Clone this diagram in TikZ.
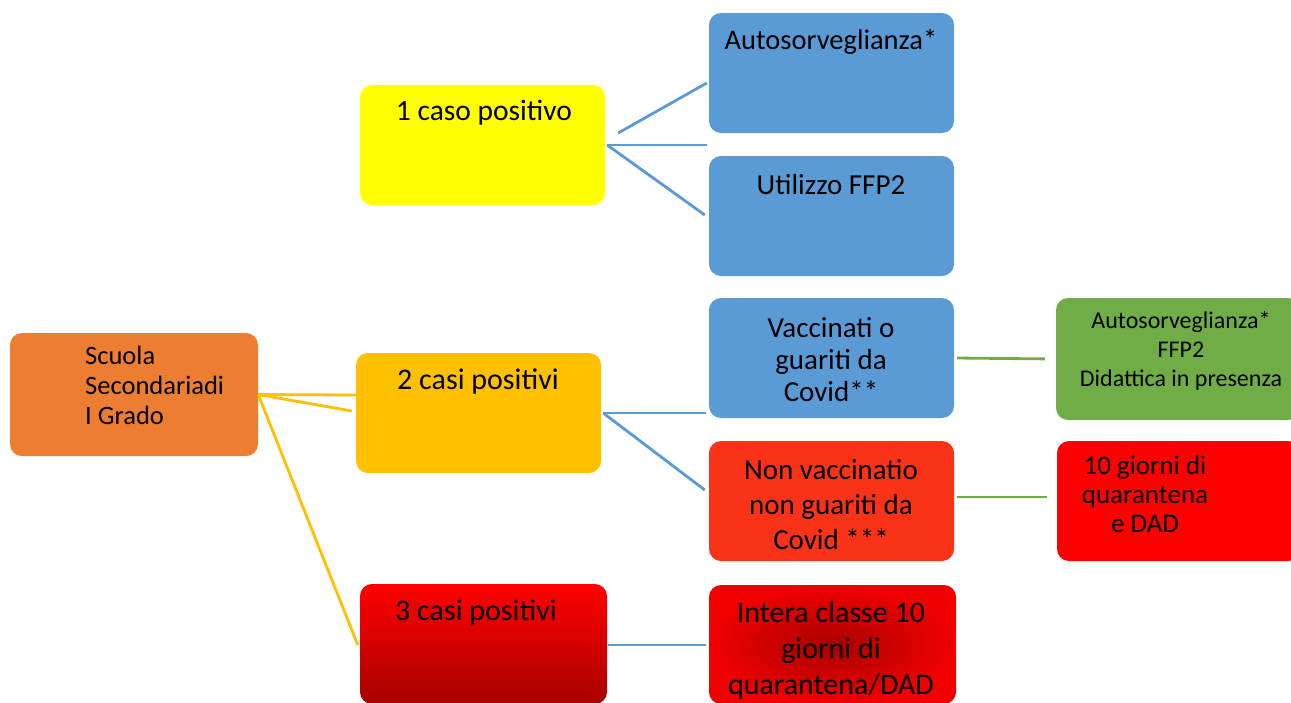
\documentclass[tikz,border=0pt]{standalone}
\usepackage{fontspec}
\setmainfont{Carlito}
\usetikzlibrary{positioning}

\definecolor{arancio}{HTML}{ED7D31}
\definecolor{giallo}{HTML}{FFFF00}
\definecolor{oro}{HTML}{FFC000}
\definecolor{azzurro}{HTML}{5B9BD5}
\definecolor{verdino}{HTML}{70AD47}
\definecolor{rossovivo}{HTML}{FF0000}
\definecolor{rossobordo}{HTML}{F20000}
\definecolor{rossoscuro}{HTML}{A80000}
\definecolor{rossoarancio}{HTML}{F93218}

\begin{document}
\begin{tikzpicture}[x=1pt, y=-1pt,
		box/.style={rectangle, rounded corners=12pt, minimum width=245pt, minimum height=120pt, inner sep=0pt},
		txt/.style={align=center, inner sep=0pt, font=\fontsize{29.5}{32}\selectfont},
		ramo/.style={line width=2.8pt}]
			\useasboundingbox (0,0) rectangle (1291,702);

			% Root
			\node[box, fill=arancio, minimum width=248pt, minimum height=123pt] (radice) at (134,394.5) {};
			\node[txt, align=left, anchor=west, font=\fontsize{26.5}{30}\selectfont] (radice-t) at (85,385) {Scuola\\Secondariadi\\I Grado};

			% Number of cases
			\node[box, fill=giallo] (uno) at (482.5,145) {};
			\node[txt] (uno-t) at (484,113) {1 caso positivo};
			\node[box, fill=oro] (due) at (478.5,413) {};
			\node[txt, font=\fontsize{30}{32}\selectfont] (due-t) at (478,382) {2 casi positivi};
			\node[box, top color=rossovivo, bottom color=rossoscuro, minimum width=247pt, minimum height=120pt] (tre) at (483.5,644) {};
			\node[txt, font=\fontsize{30}{32}\selectfont] (tre-t) at (476,613) {3 casi positivi};

			% Measures
			\node[box, fill=azzurro] (auto) at (831.5,73) {};
			\node[txt, font=\fontsize{28.5}{32}\selectfont] (auto-t) at (831,42) {Autosorveglianza*};
			\node[box, fill=azzurro] (util) at (831.5,216) {};
			\node[txt, font=\fontsize{29}{32}\selectfont] (util-t) at (831,185) {Utilizzo FFP2};
			\node[box, fill=azzurro] (vacc) at (831.5,358) {};
			\node[txt, font=\fontsize{29}{32}\selectfont] (vacc-t) at (831,360) {Vaccinati o\\guariti da\\Covid**};
			\node[box, fill=rossoarancio] (nonv) at (831.5,501) {};
			\node[txt, font=\fontsize{29}{35}\selectfont] (nonv-t) at (831,505) {Non vaccinatio\\non guariti da\\Covid ***};
			\node[box, inner color=rossoscuro, outer color=rossobordo, minimum width=247pt, minimum height=119pt] (intera) at (832.5,644.5) {};
			\node[txt, font=\fontsize{30}{36}\selectfont] (intera-t) at (831,650) {Intera classe 10\\giorni di\\quarantena/DAD};

			% Outcomes
			\node[box, fill=verdino, minimum width=244pt, minimum height=122pt] (verde) at (1178,359) {};
			\node[txt, font=\fontsize{24}{29}\selectfont] (verde-t) at (1181,351) {Autosorveglianza*\\FFP2\\Didattica in presenza};
			\node[box, fill=rossovivo, minimum width=243pt] (rosso) at (1178.5,501) {};
			\node[txt, font=\fontsize{27}{29}\selectfont] (rosso-t) at (1145,494) {10 giorni di\\quarantena\\e DAD};

			% Connectors from the root
			\draw[ramo, oro] (radice.east) -- ([yshift=18pt]due.west);
			\draw[ramo, oro] (radice.east) -- ([xshift=-4pt, yshift=2pt]due.west);
			\draw[ramo, oro] (radice.east) -- ([xshift=-2pt, yshift=-1pt]tre.west);

			% Connectors to the measures
			\coordinate (libero) at (707,145);
			\draw[ramo, azzurro] ([xshift=13pt, yshift=12pt]uno.east) -- ([xshift=-2pt, yshift=-10pt]auto.west);
			\draw[ramo, azzurro] ([xshift=2pt]uno.east) -- (libero);
			\draw[ramo, azzurro] ([xshift=2pt]uno.east) -- ([xshift=-4pt, yshift=1pt]util.west);
			\draw[ramo, azzurro] ([xshift=2pt]due.east) -- ([xshift=-3pt]due.east -| vacc.west);
			\draw[ramo, azzurro] ([xshift=2pt]due.east) -- ([xshift=-4pt, yshift=11pt]nonv.west);
			\draw[ramo, azzurro] ([xshift=1pt, yshift=-1pt]tre.east) -- ([xshift=-3pt, yshift=-1pt]tre.east -| intera.west);

			% Connectors to the outcomes
			\draw[ramo, verdino, shorten <=3pt, shorten >=11pt] (vacc.east) -- (verde.west);
			\draw[ramo, verdino, shorten <=3pt, shorten >=10pt] ([yshift=4pt]nonv.east) -- ([yshift=4pt]rosso.west);
		\end{tikzpicture}
\end{document}
